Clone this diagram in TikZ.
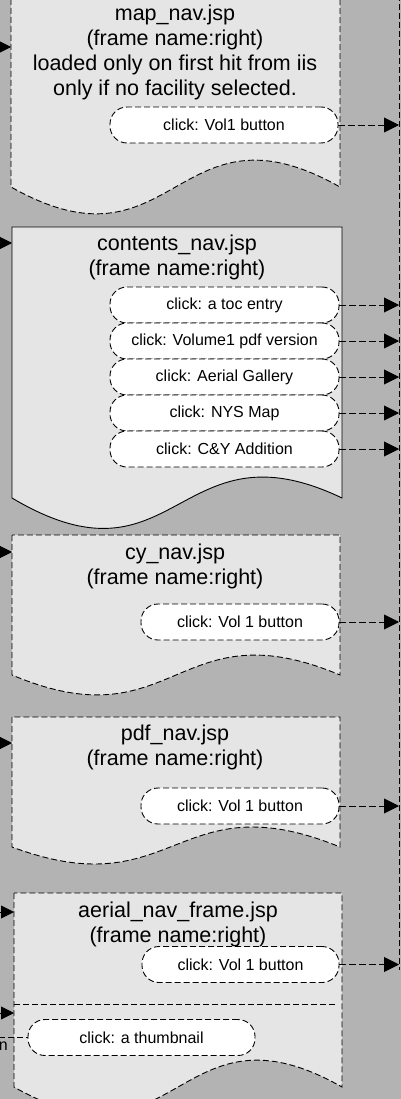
\documentclass[tikz,border=0pt]{standalone}
\usepackage{fontspec}
\setmainfont{Liberation Sans}
\usetikzlibrary{arrows.meta}
\definecolor{bgcol}{RGB}{179,179,179}
\definecolor{docfill}{RGB}{229,229,229}
\tikzset{
  docdash/.style={draw=black, fill=docfill, line width=0.9pt, dash pattern=on 6pt off 3pt},
  docsolid/.style={draw=black, fill=docfill, line width=0.9pt},
  doctext/.style={align=center, font=\fontsize{21.5}{25}\selectfont, inner sep=0pt},
  btn/.style={draw=black, fill=white, line width=0.9pt, dash pattern=on 6pt off 3pt,
    rounded corners=17pt, minimum height=36pt, inner sep=0pt, font=\fontsize{16}{18}\selectfont},
  arr/.style={draw=black, line width=0.9pt, dash pattern=on 7pt off 3pt,
    -{Triangle[length=15pt,width=15pt]}},
  inarr/.style={draw=black, line width=0.9pt, -{Triangle[length=13pt,width=13pt]}},
  lane/.style={draw=black, line width=0.9pt, dash pattern=on 6pt off 3pt},
}
\begin{document}
\begin{tikzpicture}[x=1pt,y=-1pt]
\useasboundingbox (0,0) rectangle (401,1099);
\clip (0,0) rectangle (401,1099);
\fill[bgcol] (0,0) rectangle (401,1099);

% lane border on the right
\coordinate (laneTop) at (399,-5);
\coordinate (laneBot) at (399,970);
\draw[lane] (laneTop) -- (laneBot);

% ---------- map_nav.jsp ----------
\draw[docdash] (11,-10) -- (11,187) .. controls (175.5,280) and (175.5,94) .. (340,187) -- (340,-10) -- cycle;
\node[doctext] (mapT) at (175,52.5) {map\_nav.jsp\\(frame name:right)\\loaded only on first hit from iis\\only if no facility selected.};
\node[btn, minimum width=228pt] (mapB) at (224,125) {click: Vol1 button};
\coordinate (mapIn) at (11,47);
\coordinate (mapSrc) at (-20,47);
\coordinate (mapOut) at (399,125);
\draw[inarr] (mapSrc) -- (mapIn);
\draw[arr] (mapB) -- (mapOut);

% ---------- contents_nav.jsp ----------
\draw[docsolid] (12,227) -- (12,498) .. controls (177,596) and (177,419) .. (342,498) -- (342,227) -- cycle;
\node[doctext] (conT) at (177,257.5) {contents\_nav.jsp\\(frame name:right)};
\node[btn, minimum width=229pt] (conB1) at (224.5,305) {click: a toc entry};
\node[btn, minimum width=229pt] (conB2) at (224.5,341) {click: Volume1 pdf version};
\node[btn, minimum width=229pt] (conB3) at (224.5,377) {click: Aerial Gallery};
\node[btn, minimum width=229pt] (conB4) at (224.5,413) {click: NYS Map};
\node[btn, minimum width=229pt] (conB5) at (224.5,449) {click: C\&Y Addition};
\coordinate (conIn) at (12,243);
\coordinate (conSrc) at (-20,243);
\draw[inarr] (conSrc) -- (conIn);
\coordinate (conO1) at (399,305);
\coordinate (conO2) at (399,341);
\coordinate (conO3) at (399,377);
\coordinate (conO4) at (399,413);
\coordinate (conO5) at (399,449);
\draw[arr] (conB1) -- (conO1);
\draw[arr] (conB2) -- (conO2);
\draw[arr] (conB3) -- (conO3);
\draw[arr] (conB4) -- (conO4);
\draw[arr] (conB5) -- (conO5);

% ---------- cy_nav.jsp ----------
\draw[docdash] (12,535) -- (12,675) .. controls (176,744) and (176,606) .. (340,675) -- (340,535) -- cycle;
\node[doctext] (cyT) at (175,566.5) {cy\_nav.jsp\\(frame name:right)};
\node[btn, minimum width=198pt] (cyB) at (240,622) {click: Vol 1 button};
\coordinate (cyIn) at (12,552);
\coordinate (cySrc) at (-20,552);
\coordinate (cyOut) at (399,622);
\draw[inarr] (cySrc) -- (cyIn);
\draw[arr] (cyB) -- (cyOut);

% ---------- pdf_nav.jsp ----------
\draw[docdash] (12,717) -- (12,847) .. controls (176,908) and (176,780) .. (340,847) -- (340,717) -- cycle;
\node[doctext] (pdfT) at (175,747.5) {pdf\_nav.jsp\\(frame name:right)};
\node[btn, minimum width=198pt] (pdfB) at (240,806) {click: Vol 1 button};
\coordinate (pdfIn) at (12,743);
\coordinate (pdfSrc) at (-20,743);
\coordinate (pdfOut) at (399,806);
\draw[inarr] (pdfSrc) -- (pdfIn);
\draw[arr] (pdfB) -- (pdfOut);

% ---------- aerial_nav_frame.jsp ----------
\draw[docdash] (14,893) -- (14,1087) .. controls (178,1180) and (178,994) .. (342,1087) -- (342,893) -- cycle;
\coordinate (aerSepL) at (14,1004);
\coordinate (aerSepR) at (335,1004);
\draw[lane] (aerSepL) -- (aerSepR);
\node[doctext] (aerT) at (178,924.5) {aerial\_nav\_frame.jsp\\(frame name:right)};
\node[btn, minimum width=197pt] (aerB) at (240.5,964.5) {click: Vol 1 button};
\node[btn, minimum width=227pt] (thumbB) at (141.5,1037.5) {click: a thumbnail};
\coordinate (aerIn) at (14,912);
\coordinate (aerSrc) at (-20,912);
\coordinate (aerIn2) at (14,1013);
\coordinate (aerSrc2) at (-20,1013);
\coordinate (aerOut) at (399,964.5);
\coordinate (thumbSrc) at (-10,1037.5);
\draw[inarr] (aerSrc) -- (aerIn);
\draw[inarr] (aerSrc2) -- (aerIn2);
\draw[arr] (aerB) -- (aerOut);
\draw[lane] (thumbSrc) -- (thumbB);
\node[anchor=east, inner sep=0pt, font=\fontsize{16}{18}\selectfont] (nlbl) at (8,1046) {n};
\end{tikzpicture}
\end{document}
